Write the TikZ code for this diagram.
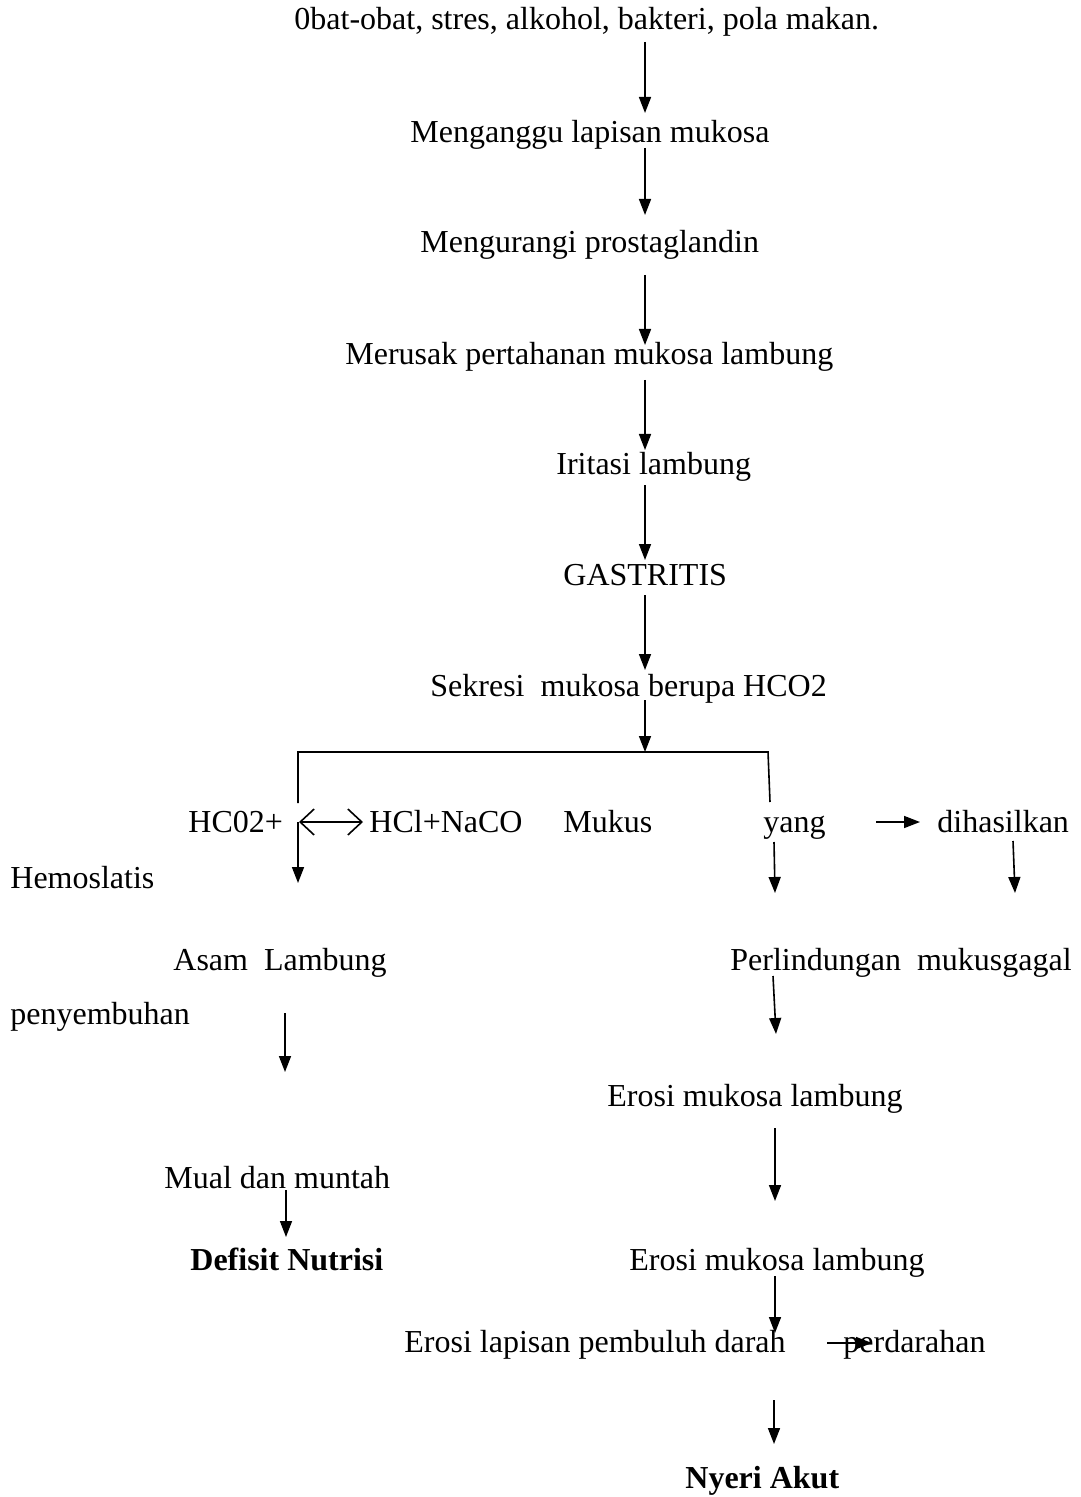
\documentclass[tikz,border=0pt]{standalone}
\usepackage{fontspec}
\setmainfont{Liberation Serif}
\usetikzlibrary{arrows.meta}

\begin{document}
\begin{tikzpicture}[
    x=0.5pt, y=-0.5pt,
    txt/.style={anchor=base west, inner sep=0pt, font=\fontsize{16}{19}\selectfont},
    arr/.style={-{Triangle[width=6pt, length=8pt]}, line width=0.8pt},
    link/.style={line width=0.8pt}
]
    \useasboundingbox (0,0) rectangle (1080,1497);
    % Texts of the pathway, placed at their left edge and baseline
    \foreach \name/\x/\y/\label in {
        cause/294/30/{0bat-obat, stres, alkohol, bakteri, pola makan.},
        layer/410/143/{Menganggu lapisan mukosa},
        prost/420/253/{Mengurangi prostaglandin},
        defense/345/365/{Merusak pertahanan mukosa lambung},
        irrit/556/474/{Iritasi lambung},
        gastr/563/585/{GASTRITIS},
        secr/430/696/{Sekresi\ \ mukosa berupa HCO2},
        hco/188/832/{HC02+},
        hcl/369/832/{HCl+NaCO},
        mukus/563/832/{Mukus},
        yang/763/832/{yang},
        produced/937/832/{dihasilkan},
        hemo/10/888/{Hemoslatis},
        acid/173/970/{Asam\ \ Lambung},
        protect/730/970/{Perlindungan\ \ mukusgagal},
        healing/10/1024/{penyembuhan},
        erosionA/607/1106/{Erosi mukosa lambung},
        nausea/164/1188/{Mual dan muntah},
        erosionB/629/1270/{Erosi mukosa lambung},
        vessel/404/1352/{Erosi lapisan pembuluh darah},
        bleed/843/1352/{perdarahan}} {
        \node[txt] (\name) at (\x,\y) {\label};
    }
    \node[txt, font=\fontsize{16}{19}\selectfont\bfseries] (nutri) at (190,1270) {Defisit Nutrisi};
    \node[txt, font=\fontsize{16}{19}\selectfont\bfseries] (pain) at (685,1488) {Nyeri Akut};

    % Branch line under the secretion
    \coordinate (brL) at (298,803);
    \coordinate (brLtop) at (298,752);
    \coordinate (brRtop) at (768,752);
    \coordinate (brR) at (770,802);
    \draw[link] (brL) -- (brLtop) -- (brRtop) -- (brR);

    % Equilibrium arrow
    \coordinate (eqA) at (299,822);
    \coordinate (eqB) at (363,822);
    \draw[{Straight Barb[length=7pt, width=13pt]}-{Straight Barb[length=7pt, width=13pt]}, link] (eqA) -- (eqB);

    % Arrows, from start to tip
    \foreach \n/\xa/\ya/\xb/\yb in {
        1/645/42/645/113, 2/645/148/645/215, 3/645/275/645/345,
        4/645/380/645/450, 5/645/485/645/560, 6/645/595/645/670,
        7/645/700/645/752, 8/298/822/298/883, 9/774/842/775/893,
        10/876/822/920/822, 11/1013/841/1015/893, 12/285/1013/285/1072,
        13/773/976/776/1034, 14/775/1128/775/1201, 15/286/1190/286/1237,
        16/775/1276/775/1333, 17/827/1343/872/1343, 18/774/1400/774/1444} {
        \coordinate (s\n) at (\xa,\ya);
        \coordinate (e\n) at (\xb,\yb);
        \draw[arr] (s\n) -- (e\n);
    }
\end{tikzpicture}
\end{document}
